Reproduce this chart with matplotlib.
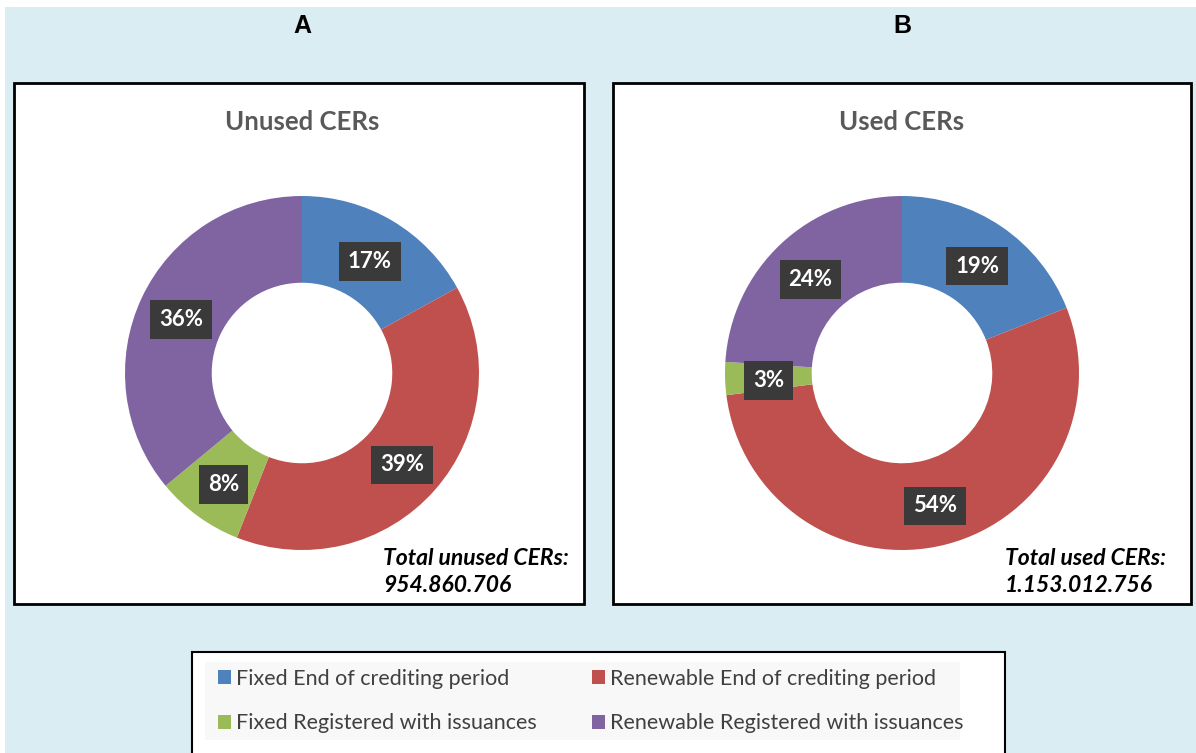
import matplotlib
matplotlib.use("Agg")
import matplotlib.pyplot as plt
from matplotlib.patches import Rectangle, Patch
import numpy as np

categories = ["Fixed End of crediting period", "Renewable End of crediting period",
              "Fixed Registered with issuances", "Renewable Registered with issuances"]
unused_values = [17, 39, 8, 36]
used_values = [19, 54, 3, 24]
panel_letters = ["A", "B"]
panel_titles = ["Unused CERs", "Used CERs"]
total_labels = ["Total unused CERs:\n954.860.706", "Total used CERs:\n1.153.012.756"]
colors = ["#4F81BD", "#C0504D", "#9BBB59", "#8064A2"]

W, H = 1196, 753
fig = plt.figure(figsize=(W / 100, H / 100), dpi=100)
fig.patch.set_facecolor("white")

def fx(x):
    return x / W

def fy(y):
    return 1 - y / H

BG = "#DAEDF3"
fig.add_artist(Rectangle((fx(5), fy(753)), fx(1191), (753 - 7) / H,
                         facecolor=BG, edgecolor="none", transform=fig.transFigure, zorder=0))

boxes = [(14, 83, 584, 604), (613, 83, 1191, 604)]
centers = [(302, 373), (902, 373)]
letter_x = [302, 902]
R = 177
FONT = ["Lato", "DejaVu Sans"]

for i, vals in enumerate([unused_values, used_values]):
    x0, y0, x1, y1 = boxes[i]
    fig.add_artist(Rectangle((fx(x0), fy(y1)), (x1 - x0) / W, (y1 - y0) / H,
                             facecolor="white", edgecolor="black", linewidth=2,
                             transform=fig.transFigure, zorder=1))
    fig.text(fx(letter_x[i]), fy(26), panel_letters[i], ha="center", va="center",
             fontsize=18, fontweight="bold", family=["Liberation Sans", "DejaVu Sans"],
             zorder=5)
    fig.text(fx(centers[i][0]), fy(122), panel_titles[i], ha="center", va="center",
             fontsize=18.5, fontweight="bold", color="#595959", family=FONT, zorder=5)
    cx, cy = centers[i]
    ax = fig.add_axes([fx(cx - R), fy(cy + R), 2 * R / W, 2 * R / H], zorder=3)
    wedges, _ = ax.pie(vals, colors=colors, startangle=90, counterclock=False, radius=1,
                       wedgeprops=dict(width=0.49, edgecolor="none"))
    ax.set_xlim(-1, 1)
    ax.set_ylim(-1, 1)
    ax.axis("off")
    cum = np.cumsum([0] + vals)
    tot = sum(vals)
    for j, v in enumerate(vals):
        mid = (cum[j] + cum[j + 1]) / 2 / tot * 2 * np.pi
        r = 0.755
        ax.text(r * np.sin(mid), r * np.cos(mid) - 0.02, f"{v}%", ha="center", va="center",
                color="white", fontsize=16, fontweight="bold", family=FONT,
                bbox=dict(boxstyle="square,pad=0.4", facecolor="#3A3A3A", edgecolor="none"),
                zorder=6)
    tx = 383 if i == 0 else 1005
    fig.text(fx(tx), fy(572), total_labels[i], ha="left", va="center", fontsize=16.5,
             fontweight="bold", style="italic", family=FONT, linespacing=1.3, zorder=5)

# legend box
fig.add_artist(Rectangle((fx(192), fy(760)), (1005 - 192) / W, (760 - 652) / H,
                         facecolor="white", edgecolor="black", linewidth=1.5,
                         transform=fig.transFigure, zorder=1))
fig.add_artist(Rectangle((fx(205), fy(740)), (960 - 205) / W, (740 - 662) / H,
                         facecolor="#F8F8F8", edgecolor="none",
                         transform=fig.transFigure, zorder=1.5))
handles = [Patch(facecolor=c, edgecolor="none") for c in colors]
order = [0, 2, 1, 3]
leg = fig.legend([handles[k] for k in order], [categories[k] for k in order], ncol=2,
                 loc="center left", bbox_to_anchor=(fx(199), fy(701)), frameon=False,
                 prop={"family": FONT, "size": 15.5}, handlelength=0.6, handleheight=0.6,
                 handletextpad=0.2, columnspacing=2.6, labelspacing=1.15,
                 labelcolor="#404040")
leg.set_zorder(4)

fig.savefig("out.png", dpi=100)
